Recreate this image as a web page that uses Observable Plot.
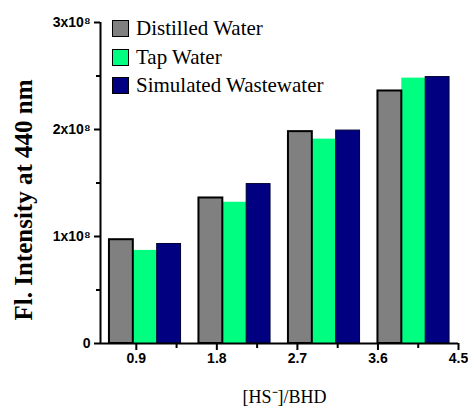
<!DOCTYPE html>
<html>
<head>
<meta charset="utf-8">
<script src="https://cdn.jsdelivr.net/npm/d3@7"></script>
<script src="https://cdn.jsdelivr.net/npm/@observablehq/plot@0.6"></script>
<style>
  html, body { margin: 0; padding: 0; background: #fff; }
  #wrap { position: relative; width: 468px; height: 406px; overflow: hidden; }
  #legend { position: absolute; left: 112px; top: 20px; font-family: "Liberation Serif", "Times New Roman", serif; font-size: 21px; color: #000; }
  .row { position: absolute; left: 0; height: 17px; white-space: nowrap; }
  .sw { position: absolute; left: 0; top: 0; width: 15px; height: 15px; border: 1px solid #000; }
  .lb { position: absolute; left: 24px; top: 0; line-height: 17px; }
</style>
</head>
<body>
<div id="wrap"><div id="legend"></div></div>
<script>
// Data
const groups = [1, 2, 3, 4];
const seriesNames = ["Distilled Water", "Tap Water", "Simulated Wastewater"];
const distilled = [0.97e8, 1.36e8, 1.98e8, 2.36e8];
const tap = [0.87e8, 1.32e8, 1.91e8, 2.48e8];
const simulated = [0.93e8, 1.49e8, 1.99e8, 2.49e8];
const colors = ["#808080", "#00FF80", "#000080"];
const strokes = ["#000000", "none", "#000033"];
const xTicks = [0.9, 1.8, 2.7, 3.6, 4.5];
const xTickLabels = ["0.9", "1.8", "2.7", "3.6", "4.5"];
const xMinorTicks = [1.35, 2.25, 3.15, 4.05];
const yTicks = [0, 1e8, 2e8, 3e8];
const yTickLabels = ["0", "1x10\u2078", "2x10\u2078", "3x10\u2078"];
const yMinorTicks = [0.5e8, 1.5e8, 2.5e8];
const xTitle = "[HS\u207B]/BHD";
const yTitle = "Fl. Intensity at 440 nm";

const seriesValues = [distilled, tap, simulated];
const groupWidth = 0.8;
const rows = groups.flatMap((g, gi) =>
  seriesValues.map((vals, si) => ({ g, si, series: seriesNames[si], value: vals[gi] }))
);
const bw = groupWidth / seriesNames.length;
const x1 = d => d.g - groupWidth / 2 + d.si * bw;
const x2 = d => d.g - groupWidth / 2 + (d.si + 1) * bw;

const barMarks = [1, 2, 0].map(si =>
  Plot.rect(rows.filter(d => d.si === si), {
    x1, x2, y1: 0, y2: "value",
    fill: colors[si],
    stroke: strokes[si],
    strokeWidth: si === 0 ? 2 : 1
  })
);

const serif = "Liberation Serif, Times New Roman, serif";
const sans = "Liberation Sans, Arial, sans-serif";

const chart = Plot.plot({
  width: 468,
  height: 406,
  marginLeft: 100,
  marginRight: 10,
  marginTop: 22,
  marginBottom: 63,
  style: { background: "transparent", color: "#000" },
  x: { domain: [0.5, 4.5] },
  y: { domain: [0, 3e8] },
  marks: [
    ...barMarks,
    Plot.ruleY([0], { stroke: "#000", strokeWidth: 2 }),
    Plot.ruleX([0.5], { stroke: "#000", strokeWidth: 2 }),
    Plot.axisX({ ticks: xTicks, tickSize: 7, tickPadding: 3, strokeWidth: 2,
      tickFormat: d => xTickLabels[xTicks.indexOf(d)], label: null,
      fontSize: 14, fontWeight: "bold", fontFamily: sans }),
    Plot.axisX({ ticks: xMinorTicks, tickSize: 5, strokeWidth: 2, tickFormat: () => "", label: null }),
    Plot.axisY({ ticks: yTicks, tickSize: 6, tickPadding: 4, strokeWidth: 2,
      tickFormat: d => yTickLabels[yTicks.indexOf(d)], label: null,
      fontSize: 14, fontWeight: "bold", fontFamily: sans }),
    Plot.axisY({ ticks: yMinorTicks, tickSize: 4, strokeWidth: 2, tickFormat: () => "", label: null }),
    Plot.text([yTitle], { frameAnchor: "left", rotate: -90, dx: -77, dy: 17, textAnchor: "middle",
      fontSize: 25, fontWeight: "bold", fontFamily: serif, fill: "#000" }),
    Plot.text([xTitle], { frameAnchor: "bottom", dx: 5, dy: 54, textAnchor: "middle", lineAnchor: "middle",
      fontSize: 18, fontWeight: "normal", fontFamily: serif, fill: "#000" })
  ]
});

const wrap = document.getElementById("wrap");
wrap.insertBefore(chart, wrap.firstChild);

const legend = document.getElementById("legend");
const rowTops = [0, 28.5, 57];
seriesNames.forEach((name, i) => {
  const r = document.createElement("div");
  r.className = "row";
  r.style.top = rowTops[i] + "px";
  const s = document.createElement("div");
  s.className = "sw";
  s.style.background = colors[i];
  const t = document.createElement("span");
  t.className = "lb";
  t.textContent = name;
  r.appendChild(s);
  r.appendChild(t);
  legend.appendChild(r);
});
</script>
</body>
</html>
